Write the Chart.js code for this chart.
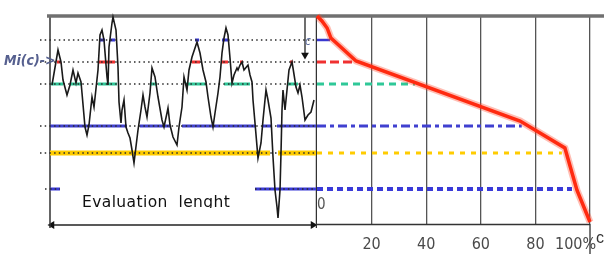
<!DOCTYPE html>
<html><head><meta charset="utf-8">
<script src="https://cdn.jsdelivr.net/npm/chart.js@4.4.1/dist/chart.umd.min.js"></script>
<style>
html,body{margin:0;padding:0;background:#fff;}
#wrap{position:relative;width:604px;height:263px;overflow:hidden;background:#fff;}
canvas{position:absolute;top:0;}
#left{left:0;}
#right{left:316px;}
.lbl{position:absolute;white-space:pre;line-height:1;}
#mi{left:4px;top:52px;font:italic bold 14px 'Liberation Sans Narrow','DejaVu Sans Condensed',sans-serif;color:#56608f;}
#evl{left:82px;top:193px;height:15px;overflow:hidden;font:15.5px 'DejaVu Sans',sans-serif;letter-spacing:0.4px;color:#111;}
#zero{left:317px;top:195px;font:15px 'Liberation Sans Narrow','DejaVu Sans Condensed',sans-serif;color:#555;}
#cax{left:596px;top:229px;font:16px 'Liberation Sans',Arial,sans-serif;color:#333;}
#ctop{left:305px;top:34px;font:italic 12px 'Liberation Sans Narrow','DejaVu Sans Condensed',sans-serif;color:#6070a0;}
</style></head><body>
<div id="wrap">
<canvas id="left" width="317" height="263"></canvas>
<canvas id="right" width="288" height="263"></canvas>
<div class="lbl" id="mi">Mi(c)-&gt;</div>
<div class="lbl" id="evl">Evaluation  lenght</div>
<div class="lbl" id="zero">0</div>
<div class="lbl" id="cax">c</div>
<div class="lbl" id="ctop">c</div>
</div>
<script>
// ---- data ----
const timeIdx = [2,8,11,13,17,20,23,26,28,31,32,35,37,39,42,44,48,50,52,54,57,58,59,62,63,66,68,69,71,72,74,76,78,80,82,84,88,91,93,95,97,100,102,105,108,112,114,117,118,120,123,127,129,132,134,137,139,142,147,150,153,156,158,161,163,165,168,170,172,174,176,178,180,182,184,187,188,190,192,194,198,200,202,203,205,208,211,213,216,218,221,223,225,227,228,230,231,232,233,235,237,239,242,243,246,248,250,252,255,258,261,264];
const signalM = [69.5,87,81,72,64.5,69.5,77,70.5,75.5,71,65.5,48.5,44.5,49.5,63.5,58.5,77,94.5,97,92,73.5,69.5,88.5,100.5,103.5,97,78.5,61,50.5,57,62,48.5,45.5,43,37,30.5,47,57,64.5,58.5,53.5,65.5,78,73.5,63.5,52,48.5,55.5,58,49.5,43.5,39.5,48.5,58.5,73.5,67,77,83.5,91,85.5,77,71,63.5,53.5,48.5,55.5,65.5,73.5,85.5,93,98,94.5,83,70.5,74.5,78,77,79.5,81,77,79.5,74.5,71,62,50.5,33,40.5,52,67,62,53,33.5,17,8.5,3,17,35.5,57,67,57,67,77,81,78,68.5,65.5,69.5,63.5,52,54.5,56,62];
const levelM = [92, 81, 70, 49, 35.5, 17.5];
const level1Runs = [[50,55],[60,65],[145,149],[172,178]];
const level2Runs = [[7,11],[48,65],[142,150],[171,178],[190,193],[240,243]];
const level3Runs = [[1,13],[20,31],[48,67],[100,107],[136,157],[174,200],[237,248]];
const level4Runs = [[0,77],[90,120],[132,205],[213,221],[227,266]];
const level5Runs = [[0,220],[228,266]];
const level6Runs = [[0,10],[205,266]];
const exceedPct = [4.8, 13.9, 35.9, 75, 89.7, 93.4];
const curvePct = [0, 1.8, 3.7, 5.1, 14.3, 74.4, 90.8, 95.2, 100];
const curveM = [104, 101.5, 98, 93, 81.5, 51.5, 38, 17, 1];
const pctTicks = [20, 40, 60, 80, 100];
const pctTickLabels = ['20', '40', '60', '80', '100%'];
const evalSpan = [0, 266];
const mMax = 104;

// ---- styles ----
const levelColors = ['#3838d0', '#f03030', '#2fc898', '#4040d0', '#ffcc00', '#3a3ad8'];
const leftRunWidth = [3, 3, 3, 3, 5, 3];
const rightDash = [[], [9, 4], [7, 5], [9, 4, 4, 4], [5, 6], [6, 4]];
const rightWidth = [2.5, 3, 3, 3, 3, 4];
const narrow = "'Liberation Sans Narrow','DejaVu Sans Condensed',sans-serif";

const allRuns = [level1Runs, level2Runs, level3Runs, level4Runs, level5Runs, level6Runs];

function runsData(runs, v) {
  const out = [];
  runs.forEach(([a, b]) => { out.push({x: a, y: v}, {x: b, y: v}, {x: b, y: null}); });
  return out;
}
function line(data, color, width, extra) {
  return Object.assign({type: 'line', data, borderColor: color, borderWidth: width, pointRadius: 0,
    clip: false, fill: false, tension: 0, spanGaps: false, borderCapStyle: 'butt'}, extra || {});
}
function arrowPts(rot) {
  return {pointRadius: rot.map(r => r === null ? 0 : 4.5), pointRotation: rot.map(r => r || 0),
    pointStyle: 'triangle', pointBackgroundColor: '#111', pointBorderWidth: 0};
}

// ---- left chart: signal over evaluation length ----
const leftSets = [];
leftSets.push(line(timeIdx.map((t, i) => ({x: t, y: signalM[i]})), '#1a1a1a', 1.6));
levelM.forEach((v, i) => {
  const dots = i < 5 ? [{x: -10, y: v}, {x: evalSpan[1], y: v}] : runsData([[-5, 0]].concat(level6Runs), v);
  leftSets.push(line(dots, '#2a2a2a', 1.5, {borderDash: [1.5, 3.2]}));
});
levelM.forEach((v, i) => {
  leftSets.push(line(runsData(allRuns[i], v), levelColors[i], leftRunWidth[i]));
});
// frame
leftSets.push(line([{x: -3, y: mMax}, {x: 267, y: mMax}], '#707070', 3.5));
leftSets.push(line([{x: evalSpan[0], y: mMax}, {x: evalSpan[0], y: -2}], '#333', 1.5));
leftSets.push(line([{x: 266.5, y: mMax}, {x: 266.5, y: -2}], '#333', 1.5));
leftSets.push(line([{x: evalSpan[0] + 2, y: -0.5}, {x: evalSpan[1] - 3, y: -0.5}], '#222', 1.5,
  arrowPts([270, 90])));
leftSets.push(line([{x: 255, y: mMax}, {x: 255, y: 84.5}], '#222', 1.3, arrowPts([null, 180])));

new Chart(document.getElementById('left'), {
  data: {datasets: leftSets},
  options: {
    responsive: false, animation: false, devicePixelRatio: 1,
    layout: {autoPadding: false, padding: {left: 40, right: 0, top: 16, bottom: 39}},
    plugins: {legend: {display: false}, tooltip: {enabled: false}},
    scales: {
      x: {type: 'linear', min: -10, max: 267, display: false},
      y: {type: 'linear', min: 0, max: mMax, display: false}
    }
  }
});

// ---- right chart: share of length above each level ----
const rightSets = [];
rightSets.push(line(curvePct.map((p, i) => ({x: p, y: curveM[i]})), '#ff2a10', 3.5));
rightSets.push(line(curvePct.map((p, i) => ({x: p, y: curveM[i]})), 'rgba(255,70,40,0.35)', 7));
levelM.forEach((v, i) => {
  rightSets.push(line([{x: 0, y: v}, {x: exceedPct[i], y: v}], levelColors[i], rightWidth[i],
    {borderDash: rightDash[i]}));
});
rightSets.push(line([{x: 0, y: mMax}, {x: 106, y: mMax}], '#707070', 3.5));
rightSets.push(line([{x: 0, y: -0.3}, {x: 100, y: -0.3}], '#333', 1.5));
rightSets.push(line([{x: 100, y: 0}, {x: 100, y: -15}], '#333', 1.3, arrowPts([null, 180])));

new Chart(document.getElementById('right'), {
  data: {datasets: rightSets},
  options: {
    responsive: false, animation: false, devicePixelRatio: 1,
    layout: {autoPadding: false, padding: {left: 1, right: 0, top: 16, bottom: 0}},
    plugins: {legend: {display: false}, tooltip: {enabled: false}},
    scales: {
      x: {
        type: 'linear', min: 0, max: 287 / 2.73,
        afterBuildTicks: s => { s.ticks = pctTicks.map(v => ({value: v})); },
        afterFit: s => { s.height = 39; s.paddingLeft = 0; s.paddingRight = 0; },
        grid: {color: '#555', lineWidth: 1.3, drawTicks: false},
        border: {display: false},
        ticks: {
          padding: 11, maxRotation: 0, autoSkip: false, color: '#4a4a4a',
          font: {family: narrow, size: 16},
          callback: v => {
            const lab = pctTickLabels[pctTicks.indexOf(v)];
            return v === 100 ? lab + '\u2003\u2003' : lab;
          }
        }
      },
      y: {type: 'linear', min: 0, max: mMax, display: false}
    }
  }
});
</script>
</body></html>
